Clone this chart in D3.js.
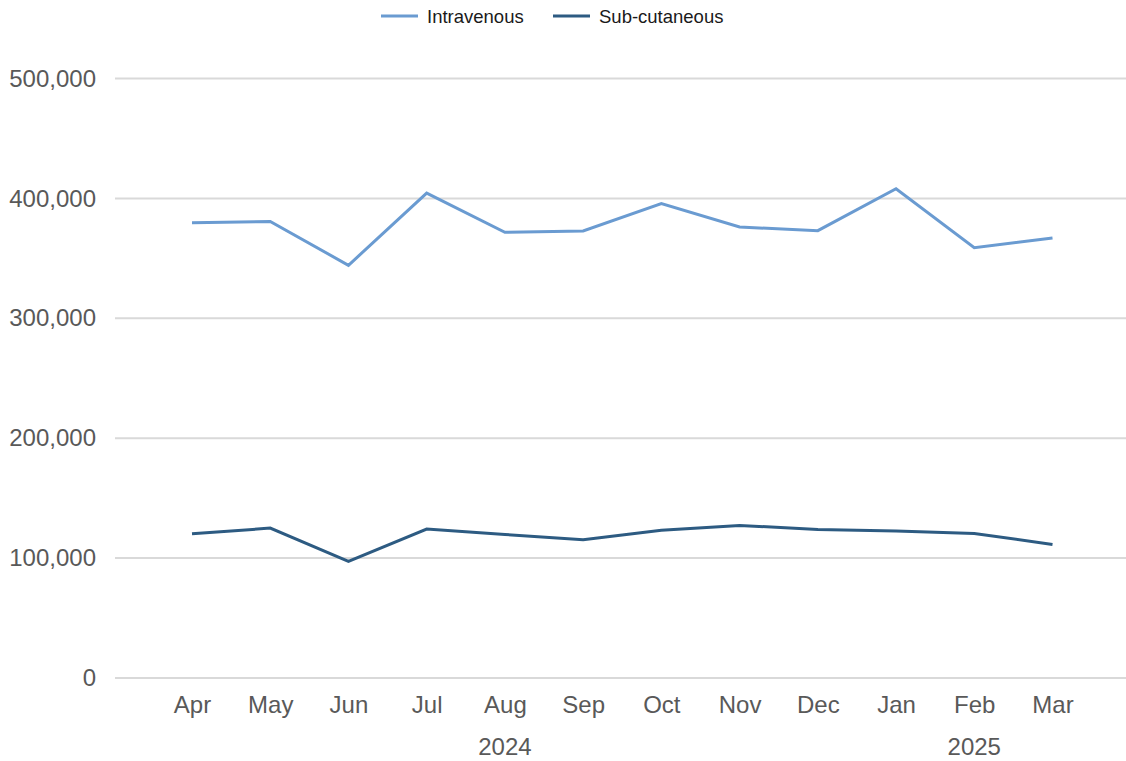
<!DOCTYPE html>
<html>
<head>
<meta charset="utf-8">
<script src="https://cdn.jsdelivr.net/npm/d3@7"></script>
<style>
  html, body { margin: 0; padding: 0; background: #fff; }
  svg { display: block; font-family: "Liberation Sans", Arial, sans-serif; }
</style>
</head>
<body>
<svg id="chart" width="1126" height="761"></svg>
<script>
const months = ["Apr","May","Jun","Jul","Aug","Sep","Oct","Nov","Dec","Jan","Feb","Mar"];
const years = [
  { label: "2024", first: "Apr", last: "Dec" },
  { label: "2025", first: "Jan", last: "Mar" }
];
const intravenous = [379700, 380800, 344200, 404400, 371700, 372800, 395600, 376100, 373100, 408100, 358900, 366900];
const subcutaneous = [120300, 125000, 97200, 124200, 119700, 115300, 123300, 127200, 123900, 122500, 120600, 111400];
const yTicks = [0, 100000, 200000, 300000, 400000, 500000];
const seriesNames = ["Intravenous", "Sub-cutaneous"];
const colors = ["#6a9bd1", "#2d5b82"];

const svg = d3.select("#chart");
const x = d3.scalePoint().domain(months).range([192, 1052.5]);
const y = d3.scaleLinear().domain([0, 500000]).range([678, 78.5]);

// gridlines
svg.append("g").selectAll("line").data(yTicks).join("line")
  .attr("x1", 115).attr("x2", 1126)
  .attr("y1", d => y(d)).attr("y2", d => y(d))
  .attr("stroke", "#d9d9d9").attr("stroke-width", 2);

// y axis labels
const yAxis = d3.axisLeft(y).tickValues(yTicks).tickSize(0).tickPadding(0)
  .tickFormat(d3.format(","));
const yg = svg.append("g").attr("transform", "translate(96,0)").call(yAxis);
yg.select(".domain").remove();
yg.selectAll("text").attr("fill", "#595959").attr("font-size", "24px")
  .attr("font-family", "'Liberation Sans', Arial, sans-serif");

// x axis labels
const xAxis = d3.axisBottom(x).tickSize(0).tickPadding(0);
const xg = svg.append("g").attr("transform", "translate(0,696)").call(xAxis);
xg.select(".domain").remove();
xg.selectAll("text").attr("fill", "#595959").attr("font-size", "24px")
  .attr("font-family", "'Liberation Sans', Arial, sans-serif");

// year labels
svg.append("g").selectAll("text").data(years).join("text")
  .attr("x", d => (x(d.first) + x(d.last)) / 2)
  .attr("y", 755)
  .attr("text-anchor", "middle")
  .attr("fill", "#595959").attr("font-size", "24px")
  .text(d => d.label);

// lines
const line = d3.line().x((d, i) => x(months[i])).y(d => y(d));
[intravenous, subcutaneous].forEach((s, k) => {
  svg.append("path").datum(s)
    .attr("d", line)
    .attr("fill", "none")
    .attr("stroke", colors[k])
    .attr("stroke-width", 3)
    .attr("stroke-linejoin", "miter");
});

// legend
const legendItems = [
  { name: seriesNames[0], color: colors[0], x: 381, tx: 427 },
  { name: seriesNames[1], color: colors[1], x: 553, tx: 599 }
];
const lg = svg.append("g");
legendItems.forEach(it => {
  lg.append("line").attr("x1", it.x).attr("x2", it.x + 37)
    .attr("y1", 16).attr("y2", 16)
    .attr("stroke", it.color).attr("stroke-width", 3);
  lg.append("text").attr("x", it.tx).attr("y", 23)
    .attr("fill", "#1a1a1a").attr("font-size", "18.5px")
    .text(it.name);
});
</script>
</body>
</html>
